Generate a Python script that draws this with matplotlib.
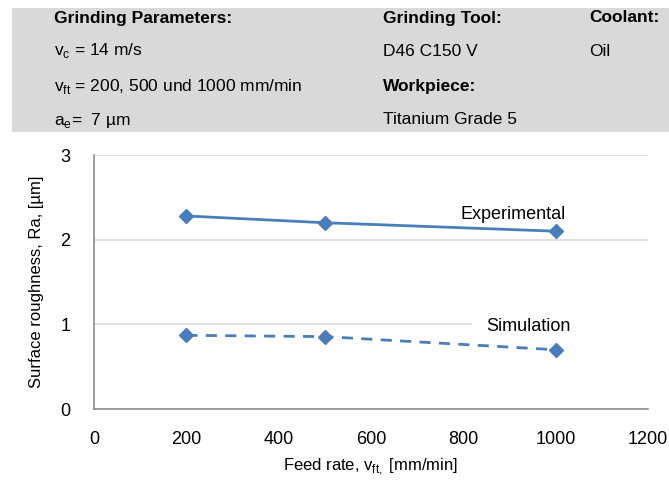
import matplotlib.pyplot as plt
from matplotlib.patches import Rectangle

plt.rcParams['font.family'] = ['Liberation Sans', 'DejaVu Sans']

feed = [200, 500, 1000]
ra_exp = [2.28, 2.20, 2.10]
ra_sim = [0.87, 0.855, 0.70]
xticks = [0, 200, 400, 600, 800, 1000, 1200]
yticks = [0, 1, 2, 3]

blue = '#4a7ebb'

fig = plt.figure(figsize=(6.69, 4.83), dpi=100)

# header box with process parameters
fig.patches.append(Rectangle((12 / 669, 1 - 132 / 483), 657 / 669, 124 / 483,
                             transform=fig.transFigure, facecolor='#d9d9d9',
                             edgecolor='none', zorder=0))
rows = [483 - 18, 483 - 51, 483 - 86, 483 - 120]
hdr = dict(fontsize=12.5, va='center', color='black')
fig.text(54 / 669, rows[0] / 483, 'Grinding Parameters:', weight='bold', **hdr)
fig.text(54 / 669, rows[1] / 483, r'v$_\mathregular{c}$ = 14 m/s', **hdr)
fig.text(54 / 669, rows[2] / 483, r'v$_\mathregular{ft}$ = 200, 500 und 1000 mm/min', **hdr)
fig.text(54 / 669, rows[3] / 483, r'a$_\mathregular{e}$=  7 µm', **hdr)
fig.text(383 / 669, rows[0] / 483, 'Grinding Tool:', weight='bold', **hdr)
fig.text(383 / 669, rows[1] / 483, 'D46 C150 V', **hdr)
fig.text(383 / 669, rows[2] / 483, 'Workpiece:', weight='bold', **hdr)
fig.text(383 / 669, rows[3] / 483, 'Titanium Grade 5', **hdr)
fig.text(589 / 669, rows[0] / 483, 'Coolant:', weight='bold', **hdr)
fig.text(589 / 669, rows[1] / 483, 'Oil', **hdr)

ax = fig.add_axes([94 / 669, 74 / 483, 554 / 669, 254 / 483])
ax.plot(feed, ra_exp, '-', color=blue, lw=2, marker='D', ms=7, zorder=3)
ax.plot(feed, ra_sim, '--', color=blue, lw=2, marker='D', ms=7, dashes=(4, 3), zorder=3)

ax.set_xlim(0, 1200)
ax.set_ylim(0, 3)
ax.set_xticks(xticks)
ax.set_yticks(yticks)
ax.tick_params(axis='x', length=0, labelsize=13, pad=16)
ax.tick_params(axis='y', length=0, labelsize=13, pad=17)
ax.yaxis.grid(True, color='#d9d9d9', lw=1.2)
ax.set_axisbelow(True)
for s in ['top', 'right']:
    ax.spines[s].set_visible(False)
for s in ['left', 'bottom']:
    ax.spines[s].set_color('#8c8c8c')
    ax.spines[s].set_linewidth(1.2)

# label box of "Simulation" hides the right part of the 1-gridline
ax.add_patch(Rectangle((819, 0.93), 381, 0.14, facecolor='white', edgecolor='none', zorder=1))
ax.text(1021, 2.30, 'Experimental', fontsize=13, ha='right', va='center', zorder=4)
ax.text(1033, 0.97, 'Simulation', fontsize=13, ha='right', va='center', zorder=4)

ax.set_xlabel(r'Feed rate, v$_\mathregular{ft,}$ [mm/min]', fontsize=12, labelpad=6)
ax.set_ylabel('Surface roughness, Ra, [µm]', fontsize=12, labelpad=12)

fig.savefig('out.png', dpi=100)
